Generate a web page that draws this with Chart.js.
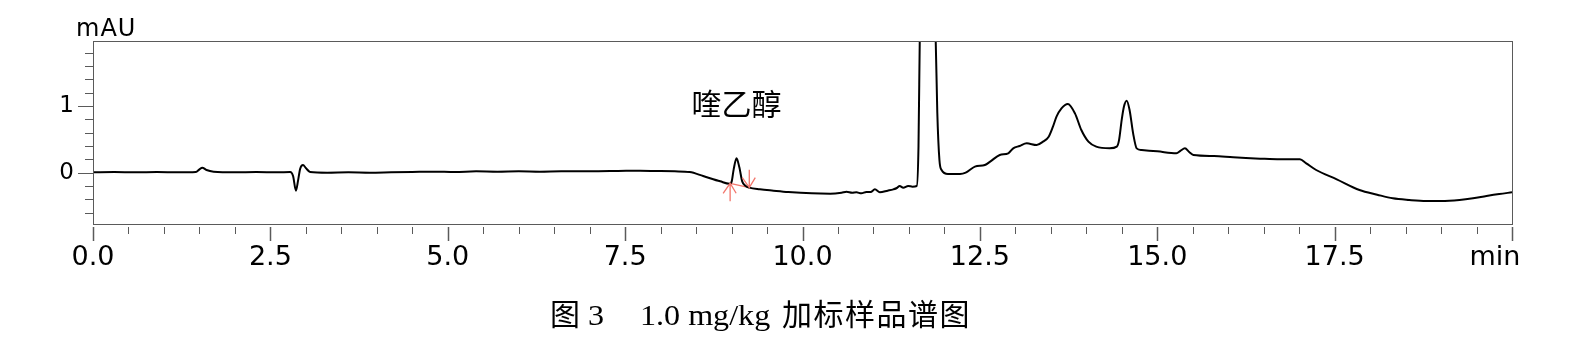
<!DOCTYPE html>
<html>
<head>
<meta charset="utf-8">
<script src="https://cdn.jsdelivr.net/npm/chart.js@4.4.1/dist/chart.umd.min.js"></script>
<style>
  body { margin: 0; background: #fff; }
  #wrap { position: relative; width: 1584px; height: 338px; }
  #chrom { position: absolute; left: 0; top: 0; }
  .cap { position: absolute; top: 300px; font-family: "Liberation Serif", "Noto Sans CJK SC", serif; font-size: 30px; line-height: 30px; white-space: nowrap; color: #000; }
  .wide { transform: scaleX(1.07); transform-origin: left center; }
</style>
</head>
<body>
<div id="wrap">
  <canvas id="chrom" width="1584" height="338"></canvas>
  <span class="cap" style="left:550px">图 <span class="wide" style="display:inline-block">3</span></span>
  <span class="cap wide" style="left:640px">1.0 mg/kg</span>
  <span class="cap" style="left:782px; letter-spacing:1.5px">加标样品谱图</span>
</div>
<script>
// retention time (min) and signal (mAU)
const times = [0.00, 0.30, 0.60, 0.90, 1.20, 1.45, 1.50, 1.54, 1.60, 1.70, 2.00, 2.30, 2.60, 2.78, 2.82, 2.86, 2.89, 2.92, 2.96, 3.00,
  3.06, 3.30, 3.60, 3.90, 4.20, 4.50, 4.80, 5.10, 5.40, 5.70, 6.00, 6.30, 6.60, 7.00, 7.40, 7.71, 8.00, 8.20, 8.41, 8.60,
  8.84, 8.97, 9.00, 9.03, 9.07, 9.11, 9.15, 9.20, 9.25, 9.40, 9.59, 9.80, 10.13, 10.39, 10.55, 10.62, 10.70, 10.76, 10.83, 10.90,
  10.96, 11.02, 11.09, 11.20, 11.28, 11.33, 11.37, 11.42, 11.49, 11.55, 11.61, 11.635, 11.655, 11.70, 11.78, 11.875, 11.90, 11.93, 11.96, 12.05,
  12.22, 12.30, 12.43, 12.57, 12.65, 12.78, 12.90, 12.97, 13.06, 13.16, 13.30, 13.39, 13.47, 13.53, 13.58, 13.65, 13.74, 13.84, 13.93, 14.03,
  14.14, 14.33, 14.43, 14.46, 14.50, 14.53, 14.57, 14.61, 14.66, 14.71, 14.78, 15.00, 15.27, 15.33, 15.39, 15.45, 15.51, 15.80, 16.07, 16.45,
  16.73, 17.01, 17.10, 17.24, 17.53, 17.85, 18.10, 18.32, 18.55, 18.79, 19.00, 19.26, 19.45, 19.64, 19.82, 20.00];
const signal = [0.005, 0.01, 0.005, 0.01, 0.005, 0.01, 0.05, 0.075, 0.04, 0.015, 0.005, 0.01, 0.005, 0.01, -0.05, -0.27, -0.12, 0.06, 0.115, 0.07,
  0.01, 0.0, 0.005, 0.0, 0.005, 0.01, 0.015, 0.01, 0.02, 0.015, 0.02, 0.015, 0.02, 0.02, 0.025, 0.03, 0.025, 0.02, 0.01, -0.05,
  -0.13, -0.165, -0.14, 0.05, 0.215, 0.08, -0.13, -0.20, -0.225, -0.25, -0.27, -0.29, -0.31, -0.315, -0.30, -0.285, -0.30, -0.295, -0.31, -0.29,
  -0.29, -0.25, -0.295, -0.27, -0.25, -0.23, -0.20, -0.225, -0.20, -0.21, -0.20, 0.4, 2.2, 4.0, 4.0, 2.1, 0.9, 0.19, 0.04, -0.02,
  -0.02, 0.0, 0.09, 0.115, 0.17, 0.265, 0.29, 0.365, 0.40, 0.44, 0.415, 0.465, 0.54, 0.69, 0.84, 0.965, 1.03, 0.89, 0.64, 0.465,
  0.39, 0.365, 0.39, 0.48, 0.80, 0.99, 1.08, 0.94, 0.59, 0.365, 0.34, 0.32, 0.29, 0.33, 0.365, 0.31, 0.265, 0.25, 0.23, 0.21,
  0.20, 0.20, 0.14, 0.04, -0.10, -0.26, -0.33, -0.385, -0.41, -0.425, -0.425, -0.41, -0.385, -0.35, -0.32, -0.295];

// integration marks of the 喹乙醇 peak (start / end of baseline)
const integStart = [8.98, -0.159];
const integEnd = [9.25, -0.225];
const peakName = '喹乙醇';
const peakLabelAt = [9.07, 1.04];

// axes
const xMajor = [0, 2.5, 5, 7.5, 10, 12.5, 15, 17.5, 20];
const xMajorLabels = ['0.0', '2.5', '5.0', '7.5', '10.0', '12.5', '15.0', '17.5', 'min    '];
const yMajor = [0, 1];
const yUnit = 'mAU';

const RED = '#f2766c';
const isIn = (arr, v) => arr.findIndex(a => Math.abs(a - v) < 1e-6);

const chromDecor = {
  id: 'chromDecor',
  afterDraw(chart) {
    const { ctx, chartArea: a, scales: { x, y } } = chart;
    ctx.save();
    // frame
    ctx.strokeStyle = '#5a5a5a';
    ctx.lineWidth = 1;
    ctx.strokeRect(a.left + 0.5, a.top + 0.5, a.right - a.left, a.bottom - a.top);
    // x tick marks
    x.ticks.forEach(t => {
      const px = Math.round(x.getPixelForValue(t.value)) + 0.5;
      const major = isIn(xMajor, t.value) >= 0;
      ctx.lineWidth = major ? 1.5 : 1;
      ctx.beginPath();
      ctx.moveTo(px, a.bottom + 3);
      ctx.lineTo(px, a.bottom + (major ? 17 : 10));
      ctx.stroke();
    });
    // y tick marks
    ctx.lineWidth = 1;
    y.ticks.forEach(t => {
      const py = Math.round(y.getPixelForValue(t.value)) + 0.5;
      const major = isIn(yMajor, t.value) >= 0;
      ctx.beginPath();
      ctx.moveTo(a.left - (major ? 15 : 8), py);
      ctx.lineTo(a.left, py);
      ctx.stroke();
    });
    // unit
    ctx.fillStyle = '#000';
    ctx.font = '24px "DejaVu Sans"';
    ctx.letterSpacing = '1px';
    ctx.textAlign = 'left';
    ctx.textBaseline = 'alphabetic';
    ctx.fillText(yUnit, 76, 36);
    ctx.letterSpacing = '0px';
    // peak name
    ctx.font = '30px "Noto Sans CJK SC"';
    ctx.textAlign = 'center';
    ctx.textBaseline = 'middle';
    ctx.fillText(peakName, x.getPixelForValue(peakLabelAt[0]), y.getPixelForValue(peakLabelAt[1]));
    // integration arrows
    ctx.strokeStyle = RED;
    ctx.lineWidth = 1.3;
    const arrow = (pt, dir) => { // dir 1: points up, -1: points down
      const px = x.getPixelForValue(pt[0]), py = y.getPixelForValue(pt[1]);
      ctx.beginPath();
      ctx.moveTo(px, py + dir * 18); ctx.lineTo(px, py);
      ctx.moveTo(px - 7, py + dir * 10); ctx.lineTo(px, py); ctx.lineTo(px + 6, py + dir * 10);
      ctx.stroke();
    };
    arrow(integStart, 1);
    arrow(integEnd, -1);
    ctx.restore();
  }
};

new Chart(document.getElementById('chrom'), {
  type: 'line',
  data: {
    datasets: [
      { data: times.map((t, i) => ({ x: t, y: signal[i] })), borderColor: '#000', borderWidth: 2,
        pointRadius: 0, cubicInterpolationMode: 'monotone' },
      { data: [{ x: integStart[0], y: integStart[1] }, { x: integEnd[0], y: integEnd[1] }],
        borderColor: RED, borderWidth: 1.3, pointRadius: 0 }
    ]
  },
  options: {
    responsive: false,
    animation: false,
    layout: { padding: { top: 41, right: 72, bottom: 0, left: 0 } },
    plugins: { legend: { display: false }, tooltip: { enabled: false } },
    scales: {
      x: {
        type: 'linear', min: 0, max: 20,
        grid: { display: false, drawTicks: false }, border: { display: false },
        ticks: {
          stepSize: 0.5, autoSkip: false, maxRotation: 0, minRotation: 0, padding: 18,
          color: '#000', font: { family: 'DejaVu Sans', size: 27 },
          callback: v => { const i = isIn(xMajor, v); return i >= 0 ? xMajorLabels[i] : ''; }
        },
        afterFit: s => { s.height = 114; }
      },
      y: {
        min: -0.77, max: 1.975,
        grid: { display: false, drawTicks: false }, border: { display: false },
        ticks: {
          stepSize: 0.2, includeBounds: false, autoSkip: false, padding: 19,
          color: '#000', font: { family: 'DejaVu Sans', size: 23 },
          callback: v => isIn(yMajor, v) >= 0 ? String(Math.round(v)) : ''
        },
        afterFit: s => { s.width = 93; }
      }
    }
  },
  plugins: [chromDecor]
});
</script>
</body>
</html>
